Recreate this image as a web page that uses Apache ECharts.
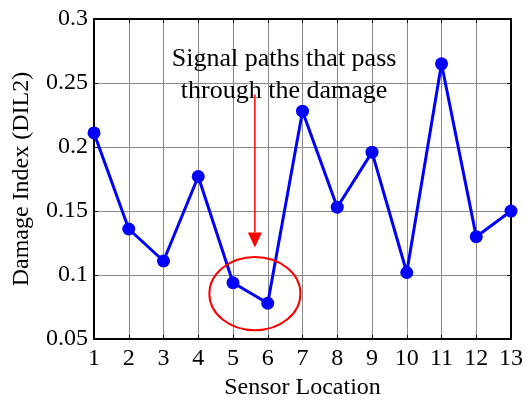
<!DOCTYPE html>
<html>
<head>
<meta charset="utf-8">
<script src="https://cdn.jsdelivr.net/npm/echarts@6/dist/echarts.min.js"></script>
<style>
  html, body { margin: 0; padding: 0; background: #fff; }
  #chart { width: 526px; height: 405px; }
</style>
</head>
<body>
<div id="chart"></div>
<script>
// Sensor positions and damage index values (DIL2)
const sensorLocations = [1, 2, 3, 4, 5, 6, 7, 8, 9, 10, 11, 12, 13];
const damageIndex = [0.211, 0.136, 0.111, 0.177, 0.094, 0.078, 0.228, 0.153, 0.196, 0.102, 0.265, 0.130, 0.150];

// Annotation anchored in data units
const noteLines = ['Signal paths that pass', 'through the damage'];
const noteAt = [6.47, 0.2815];
const arrowFrom = [5.63, 0.241];
const arrowTo = [5.63, 0.1215];
const ringCenter = [5.63, 0.0855];
const ringRadius = [1.31, 0.0286];

const FONT = '"Liberation Serif", "Times New Roman", serif';

const chart = echarts.init(document.getElementById('chart'));

const gridLine = { show: true, lineStyle: { color: '#8a8a8a', width: 1 } };

const axisCommon = {
  axisLine: { show: true, onZero: false, lineStyle: { color: '#000', width: 2 } },
  axisTick: { show: true, inside: true, length: 4, lineStyle: { color: '#000' } },
  splitLine: { show: false },
  axisLabel: { show: false }
};

chart.setOption({
  animation: false,
  grid: { left: 94, right: 12, top: 19, bottom: 58, containLabel: false },
  xAxis: [
    {
      type: 'value', min: 1, max: 13, interval: 1,
      name: 'Sensor Location', nameLocation: 'middle', nameGap: 32,
      nameTextStyle: { fontFamily: FONT, fontSize: 24, color: '#000' },
      axisLine: { show: true, onZero: false, lineStyle: { color: '#000', width: 2 } },
      axisTick: { show: true, inside: true, length: 4, lineStyle: { color: '#000' } },
      axisLabel: { fontFamily: FONT, fontSize: 24, color: '#000', margin: 8 },
      splitLine: gridLine
    },
    Object.assign({ type: 'value', min: 1, max: 13, interval: 1, position: 'top' }, axisCommon)
  ],
  yAxis: [
    {
      type: 'value', min: 0.05, max: 0.3, interval: 0.05,
      name: 'Damage Index (DIL2)', nameLocation: 'middle', nameGap: 60,
      nameTextStyle: { fontFamily: FONT, fontSize: 24, color: '#000' },
      axisLine: { show: true, onZero: false, lineStyle: { color: '#000', width: 2 } },
      axisTick: { show: true, inside: true, length: 4, lineStyle: { color: '#000' } },
      axisLabel: { fontFamily: FONT, fontSize: 24, color: '#000', margin: 6 },
      splitLine: gridLine
    },
    Object.assign({ type: 'value', min: 0.05, max: 0.3, interval: 0.05, position: 'right' }, axisCommon)
  ],
  series: [{
    type: 'line',
    data: sensorLocations.map((s, i) => [s, damageIndex[i]]),
    lineStyle: { color: '#0000ff', width: 3 },
    itemStyle: { color: '#0000ff' },
    symbol: 'circle',
    symbolSize: 13,
    z: 5
  }]
});

// Annotation: label, arrow and ring placed through the chart's own scales
function px(p) { return chart.convertToPixel({ gridIndex: 0 }, p); }
const a0 = px(arrowFrom), a1 = px(arrowTo);
const c = px(ringCenter);
const rEdge = px([ringCenter[0] + ringRadius[0], ringCenter[1] + ringRadius[1]]);
const rx = rEdge[0] - c[0], ry = c[1] - rEdge[1];
const t = px(noteAt);
const head = 15, headW = 7;

chart.setOption({
  graphic: [
    {
      type: 'text', x: t[0], y: t[1], z: 10,
      style: {
        text: noteLines.join('\n'), fontFamily: FONT, fontSize: 26, lineHeight: 32,
        fill: '#000', align: 'center', verticalAlign: 'top'
      }
    },
    {
      type: 'line', z: 10,
      shape: { x1: a0[0], y1: a0[1], x2: a1[0], y2: a1[1] - head },
      style: { stroke: '#ff0000', lineWidth: 1.5 }
    },
    {
      type: 'polygon', z: 10,
      shape: { points: [[a1[0] - headW, a1[1] - head], [a1[0] + headW, a1[1] - head], [a1[0], a1[1]]] },
      style: { fill: '#ff0000' }
    },
    {
      type: 'ellipse', z: 10,
      shape: { cx: c[0], cy: c[1], rx: rx, ry: ry },
      style: { fill: 'none', stroke: '#ff0000', lineWidth: 2 }
    }
  ]
});
</script>
</body>
</html>
